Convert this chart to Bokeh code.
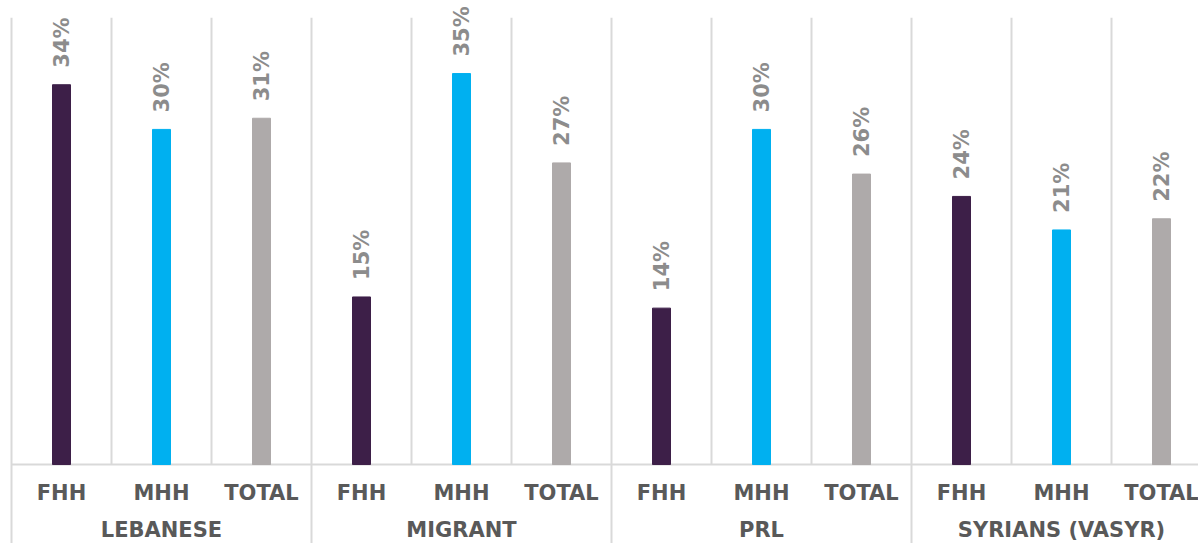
import math
from bokeh.plotting import figure
from bokeh.models import ColumnDataSource, Range1d
from bokeh.core.properties import value
from bokeh.embed import file_html
from bokeh.resources import INLINE

# Data
groups = ["LEBANESE", "MIGRANT", "PRL", "SYRIANS (VASYR)"]
subcats = ["FHH", "MHH", "TOTAL"]
fhh = [34, 15, 14, 24]
mhh = [30, 35, 30, 21]
total = [31, 27, 26, 22]

colors = {"FHH": "#3D1F48", "MHH": "#00B0F0", "TOTAL": "#AEAAAA"}
series = {"FHH": fhh, "MHH": mhh, "TOTAL": total}

FONT = value("DejaVu Sans")
GRID = "#D9D9D9"

# one unit per sub-category slot, 3 slots per group
xs, vals, cols, labels, cats = [], [], [], [], []
for g, grp in enumerate(groups):
    for s, sc in enumerate(subcats):
        v = series[sc][g]
        xs.append(3 * g + s + 0.5)
        vals.append(v)
        cols.append(colors[sc])
        labels.append(f"{v}%")
        cats.append(sc)

src = ColumnDataSource(dict(x=xs, top=vals, color=cols, label=labels, cat=cats))

p = figure(
    width=1198, height=543,
    x_range=Range1d(-0.11, 11.87), y_range=Range1d(-7.07, 41.54),
    output_backend="svg", toolbar_location=None,
    x_axis_location=None, y_axis_location=None,
    min_border=0, min_border_left=0, min_border_right=0,
    min_border_top=0, min_border_bottom=0,
)
p.outline_line_color = None
p.xgrid.visible = False
p.ygrid.visible = False
p.background_fill_color = "white"
p.border_fill_color = "white"

n_slots = 3 * len(groups)
ymin = p.y_range.start
grid_top = 40

# slot dividers (short) and group dividers (extend through the label area)
inner = [i for i in range(n_slots + 1) if i % 3 != 0]
outer = [i for i in range(n_slots + 1) if i % 3 == 0]
p.segment(x0=inner, x1=inner, y0=[0] * len(inner), y1=[grid_top] * len(inner),
          line_color=GRID, line_width=2)
p.segment(x0=outer, x1=outer, y0=[ymin] * len(outer), y1=[grid_top] * len(outer),
          line_color=GRID, line_width=2)

# baseline
p.segment(x0=[0], x1=[n_slots], y0=[0], y1=[0], line_color=GRID, line_width=2)

# bars
p.vbar(x="x", top="top", bottom=0, width=0.18, color="color", source=src)

# value labels, rotated
p.text(x="x", y="top", text="label", source=src, angle=math.pi / 2,
       text_align="left", text_baseline="middle", y_offset=-17,
       text_font=FONT, text_font_style="bold", text_font_size="21px",
       text_color="#8C8C8C")

# sub-category labels
p.text(x="x", y=0, text="cat", source=src, text_align="center",
       text_baseline="middle", y_offset=28,
       text_font=FONT, text_font_style="bold", text_font_size="21px",
       text_color="#595959")

# group labels
gx = [3 * g + 1.5 for g in range(len(groups))]
p.text(x=gx, y=[0] * len(groups), text=groups, text_align="center",
       text_baseline="middle", y_offset=65,
       text_font=FONT, text_font_style="bold", text_font_size="21px",
       text_color="#595959")

open("out.html", "w").write(file_html(p, INLINE))
